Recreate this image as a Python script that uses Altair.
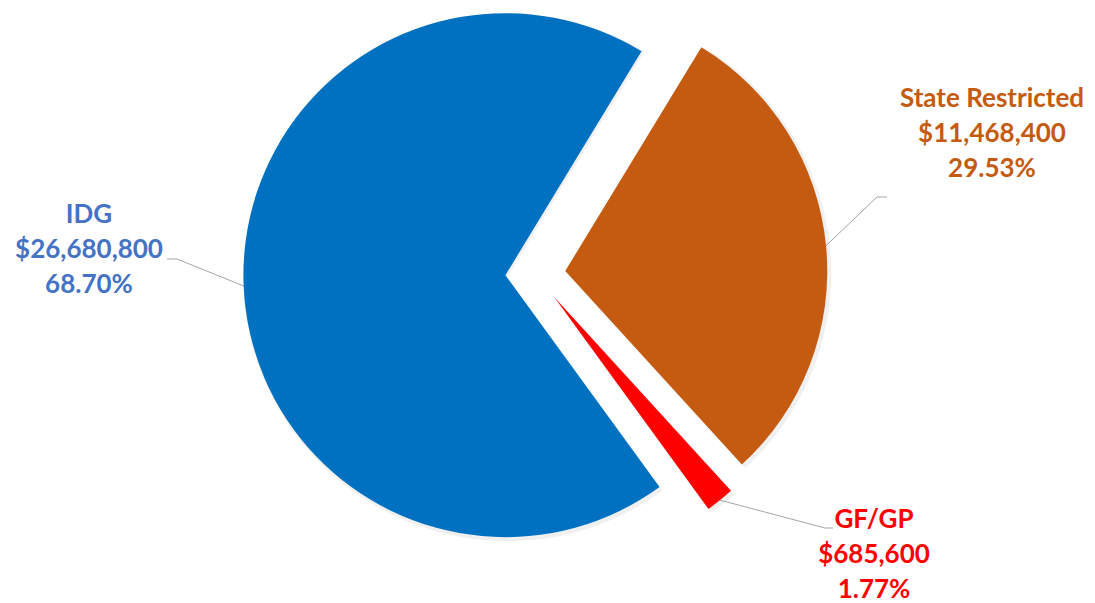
import math
import altair as alt
import pandas as pd

# ---- data ----
categories = ["State Restricted", "GF/GP", "IDG"]
amounts = [11468400, 685600, 26680800]

# ---- styles ----
slice_colors = ["#C55A11", "#FF0000", "#0070C0"]
label_colors = ["#C55A11", "#FF0000", "#4472C4"]

# ---- layout (pixels inside the svg) ----
W, H = 1079, 595
CX, CY = 527.4, 265.9
R = 262
EXPLODE = 30
ROT = math.radians(31.3)
label_xy = [(984, 99), (866, 520), (81, 215)]
elbow_xy = [(869, 189), (817, 520), (169, 251)]
end_xy = [(879, 189), (825, 520), (159, 251)]

total = sum(amounts)
df = pd.DataFrame({
    "category": categories,
    "amount": amounts,
    "order": list(range(len(categories))),
    "label": [f"{c}\n${a:,}\n{a / total * 100:.2f}%" for c, a in zip(categories, amounts)],
    "scol": slice_colors,
    "lcol": label_colors,
    "lx": [p[0] for p in label_xy],
    "ly": [p[1] for p in label_xy],
    "ex": [p[0] for p in elbow_xy],
    "ey": [p[1] for p in elbow_xy],
    "fx": [p[0] for p in end_xy],
    "fy": [p[1] for p in end_xy],
})

base = (
    alt.Chart(df)
    .transform_window(cum="sum(amount)", sort=[alt.SortField("order")], frame=[None, 0])
    .transform_calculate(start="datum.cum - datum.amount")
    .transform_calculate(mid=f"{ROT} + 2*PI*(datum.cum - datum.amount/2)/{total}")
    .transform_calculate(cx=f"{CX} + {EXPLODE}*sin(datum.mid)")
    .transform_calculate(cy=f"{CY} - {EXPLODE}*cos(datum.mid)")
    .transform_calculate(ax=f"datum.cx + {R}*sin(datum.mid)")
    .transform_calculate(ay=f"datum.cy - {R}*cos(datum.mid)")
)

theta_scale = alt.Scale(domain=[0, total], range=[ROT, ROT + 2 * math.pi])

shadow = base.mark_arc(radius=R + 2, opacity=0.06, color="black").encode(
    theta=alt.Theta("start:Q", scale=theta_scale, stack=False),
    theta2="cum:Q",
    x=alt.X("sx:Q", scale=None, axis=None),
    y=alt.Y("sy:Q", scale=None, axis=None),
).transform_calculate(sx="datum.cx + 2").transform_calculate(sy="datum.cy + 2")

arcs = base.mark_arc(radius=R).encode(
    theta=alt.Theta("start:Q", scale=theta_scale, stack=False),
    theta2="cum:Q",
    x=alt.X("cx:Q", scale=None, axis=None),
    y=alt.Y("cy:Q", scale=None, axis=None),
    color=alt.Color("scol:N", scale=None, legend=None),
)

lead1 = base.mark_rule(color="#A6A6A6", strokeWidth=1).encode(
    x=alt.X("ax:Q", scale=None, axis=None),
    y=alt.Y("ay:Q", scale=None, axis=None),
    x2="ex:Q",
    y2="ey:Q",
)
lead2 = base.mark_rule(color="#A6A6A6", strokeWidth=1).encode(
    x=alt.X("ex:Q", scale=None, axis=None),
    y=alt.Y("ey:Q", scale=None, axis=None),
    x2="fx:Q",
    y2="fy:Q",
)

labels = base.mark_text(
    align="center", baseline="alphabetic", lineBreak="\n", lineHeight=35,
    font="Lato", fontWeight="bold", fontSize=26,
).encode(
    x=alt.X("lx:Q", scale=None, axis=None),
    y=alt.Y("ly:Q", scale=None, axis=None),
    text="label:N",
    color=alt.Color("lcol:N", scale=None, legend=None),
)

chart = (
    alt.layer(shadow, arcs, lead1, lead2, labels)
    .properties(width=W, height=H, autosize=alt.AutoSizeParams(type="none"), padding=0)
    .configure_view(stroke=None)
)

chart.save("out.html", embed_options={"renderer": "svg", "actions": False})
